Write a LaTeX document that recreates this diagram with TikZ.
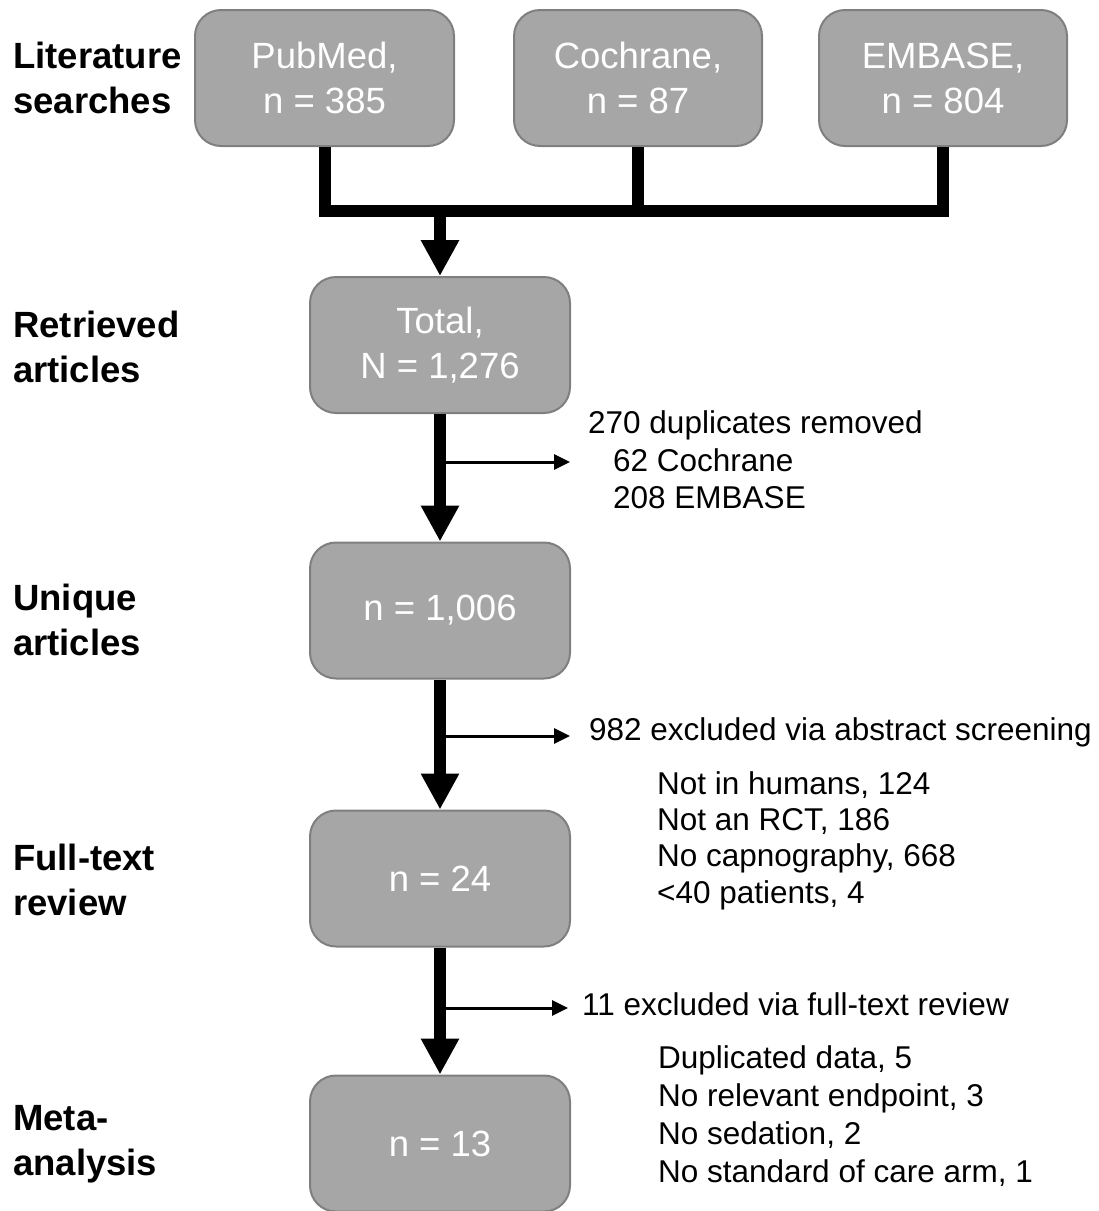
\documentclass[tikz,border=0pt]{standalone}
\usepackage{fontspec}
\setmainfont{Liberation Sans}
\usetikzlibrary{arrows.meta}
\definecolor{boxfill}{HTML}{A6A6A6}
\definecolor{boxline}{HTML}{7F7F7F}
\begin{document}
\begin{tikzpicture}[x=1pt,y=-1pt,
  box/.style={draw=boxline, line width=2pt, fill=boxfill, rounded corners=26pt,
    minimum width=260pt, minimum height=136pt, text=white, align=center,
    font=\fontsize{36.5}{45}\selectfont, inner sep=0pt},
  lab/.style={anchor=base west, align=left, inner sep=0pt,
    font=\fontsize{36.5}{45}\selectfont\bfseries},
  sidetext/.style={anchor=base west, align=left, inner sep=0pt,
    font=\fontsize{31.5}{37}\selectfont},
  conn/.style={line width=12pt, line join=miter},
  mainarrow/.style={line width=12pt, -{Triangle[width=36pt,length=36pt]}},
  sidearrow/.style={line width=3pt, -{Triangle[width=15pt,length=16pt]}}]
\useasboundingbox (0,0) rectangle (1099,1211);

% boxes
\node[box, minimum width=259pt] (pub)  at (324.5,78) {PubMed,\\n = 385};
\node[box, minimum width=248pt] (coch) at (638,78)   {Cochrane,\\n = 87};
\node[box, minimum width=248pt] (emb)  at (943,78)   {EMBASE,\\n = 804};
\node[box] (tot) at (440,345)    {Total,\\N = 1,276};
\node[box] (uni) at (440,610.5)  {n = 1,006};
\node[box] (ful) at (440,878.5)  {n = 24};
\node[box] (met) at (440,1143.5) {n = 13};

% left labels (anchored at the baseline of their last line)
\node[lab] (l1) at (13,113)  {Literature\\searches};
\node[lab] (l2) at (13,382)  {Retrieved\\articles};
\node[lab] (l3) at (13,655)  {Unique\\articles};
\node[lab] (l4) at (13,915)  {Full-text\\review};
\node[lab] (l5) at (13,1175) {Meta-\\analysis};

% merge connectors
\coordinate (bar) at (640,211);
\draw[conn] (pub.south) |- (bar) -| (emb.south);
\draw[conn] (coch.south) -- (coch.south |- bar);
\draw[mainarrow] (tot.north |- bar) -- (tot.north);

% main flow
\draw[mainarrow] (tot.south) -- (uni.north);
\draw[mainarrow] (uni.south) -- (ful.north);
\draw[mainarrow] (ful.south) -- (met.north);

% side arrows
\coordinate (s1) at (440,462);  \coordinate (e1) at (570,462);
\coordinate (s2) at (440,736);  \coordinate (e2) at (570,736);
\coordinate (s3) at (440,1008); \coordinate (e3) at (568,1008);
\draw[sidearrow] (s1) -- (e1);
\draw[sidearrow] (s2) -- (e2);
\draw[sidearrow] (s3) -- (e3);

% side texts
\node[sidetext] (d1)  at (588,433) {270 duplicates removed};
\node[sidetext] (d1s) at (613,508) {62 Cochrane\\208 EMBASE};
\node[sidetext] (a1)  at (589,740) {982 excluded via abstract screening};
\node[sidetext, font=\fontsize{31.5}{36.3}\selectfont] (a1s) at (657,903)
  {Not in humans, 124\\Not an RCT, 186\\No capnography, 668\\<40 patients, 4};
\node[sidetext] (f1)  at (582,1015) {11 excluded via full-text review};
\node[sidetext, font=\fontsize{31.5}{38}\selectfont] (f1s) at (658,1182)
  {Duplicated data, 5\\No relevant endpoint, 3\\No sedation, 2\\No standard of care arm, 1};
\end{tikzpicture}
\end{document}
